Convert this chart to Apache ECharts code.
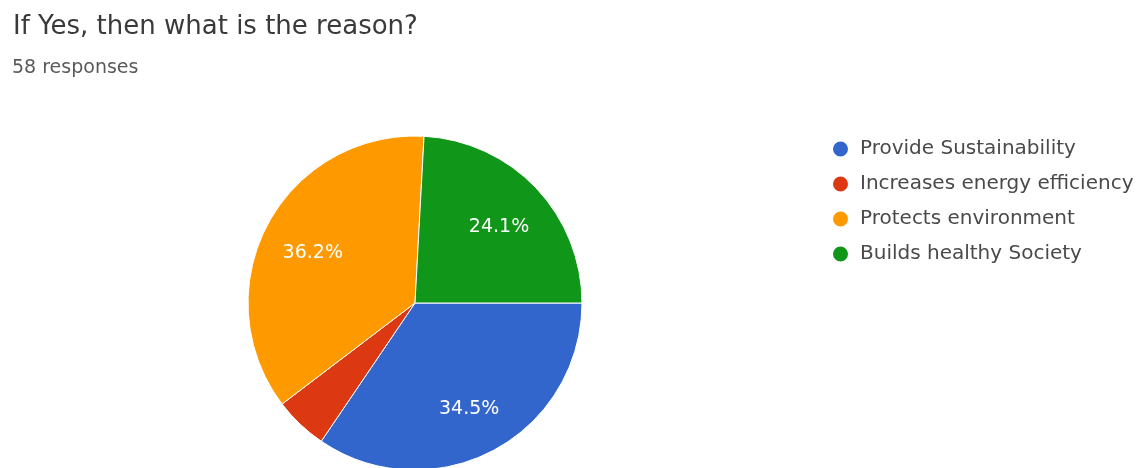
<!DOCTYPE html>
<html>
<head>
<meta charset="utf-8">
<script src="https://cdn.jsdelivr.net/npm/echarts@6/dist/echarts.min.js"></script>
<style>
  html, body { margin: 0; padding: 0; background: #fff; }
  #chart { width: 1137px; height: 468px; }
</style>
</head>
<body>
<div id="chart"></div>
<script>
// Survey answers: "If Yes, then what is the reason?" (58 responses)
const categories = [
  'Provide Sustainability',
  'Increases energy efficiency',
  'Protects environment',
  'Builds healthy Society'
];
const responseCounts = [20, 3, 21, 14];
const sliceColors = ['#3366cc', '#dc3912', '#ff9900', '#109618'];
const totalResponses = 58;

const chart = echarts.init(document.getElementById('chart'), null, { renderer: 'canvas' });

const R = 167;
const fontFamily = '"DejaVu Sans", Verdana, sans-serif';

chart.setOption({
  animation: false,
  title: [
    {
      text: 'If Yes, then what is the reason?',
      left: 8,
      top: 9,
      textStyle: { fontFamily, fontSize: 26, fontWeight: 'normal', color: '#3a3a3a' }
    },
    {
      text: totalResponses + ' responses',
      left: 7,
      top: 54,
      textStyle: { fontFamily, fontSize: 19, fontWeight: 'normal', color: '#5a5a5a' }
    }
  ],
  legend: {
    orient: 'vertical',
    left: 826,
    top: 134,
    icon: 'circle',
    itemWidth: 17,
    itemHeight: 17,
    itemGap: 15,
    data: categories,
    textStyle: { fontFamily, fontSize: 20, color: '#4a4a4a', padding: [0, 0, 0, 6] }
  },
  series: [
    {
      type: 'pie',
      center: [415, 303],
      radius: [0, R],
      startAngle: 0,
      clockwise: true,
      label: { show: false },
      labelLine: { show: false },
      itemStyle: { borderColor: '#fff', borderWidth: 1 },
      emphasis: { disabled: true },
      data: categories.map((name, i) => ({
        name,
        value: responseCounts[i],
        itemStyle: { color: sliceColors[i] }
      }))
    },
    {
      // label ring: transparent slices whose mid-radius carries the percentages
      type: 'pie',
      center: [415, 307],
      radius: [R * 0.43, R * 0.92],
      startAngle: 0,
      clockwise: true,
      silent: true,
      legendHoverLink: false,
      minShowLabelAngle: 20,
      itemStyle: { color: 'rgba(0,0,0,0)', borderWidth: 0 },
      label: {
        show: true,
        position: 'inside',
        formatter: p => p.percent.toFixed(1) + '%',
        fontFamily,
        fontSize: 19,
        color: '#fff'
      },
      labelLine: { show: false },
      emphasis: { disabled: true },
      data: categories.map((name, i) => ({ name, value: responseCounts[i] }))
    }
  ]
});
</script>
</body>
</html>
